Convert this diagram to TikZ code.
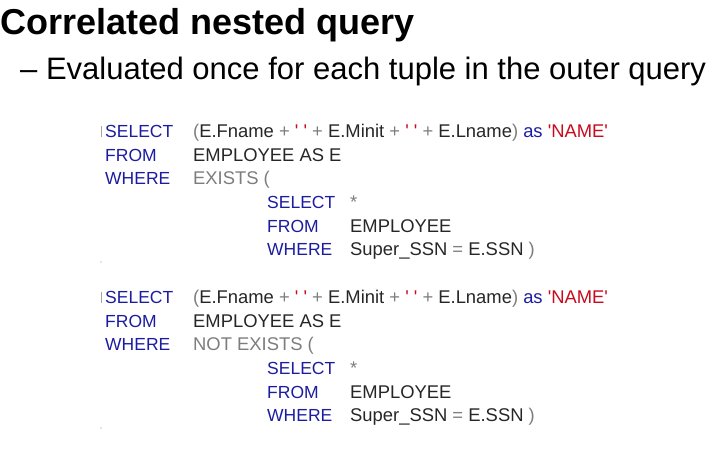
\documentclass[tikz,border=0pt]{standalone}
\usepackage{fontspec}
\setmainfont{Liberation Sans}
\definecolor{sqlblue}{RGB}{28,28,160}
\definecolor{sqlgray}{RGB}{125,125,125}
\definecolor{sqlred}{RGB}{200,10,30}
\newcommand{\sqlop}[1]{{\color{sqlgray}#1}}
\newcommand{\sqlstr}[1]{{\color{sqlred}#1}}
\newcommand{\sqlkw}[1]{{\color{sqlblue}#1}}
\tikzstyle{heading}=[anchor=base west,inner sep=0pt,font=\bfseries\fontsize{36}{40}\selectfont]
\tikzstyle{subheading}=[anchor=base west,inner sep=0pt,font=\fontsize{31}{36}\selectfont]
\tikzstyle{keyword}=[anchor=base west,inner sep=0pt,text=sqlblue,font=\fontsize{17.5}{20}\selectfont]
\tikzstyle{sqltext}=[anchor=base west,inner sep=0pt,text=black!85,font=\fontsize{18.4}{20}\selectfont]

\begin{document}
\begin{tikzpicture}[x=1pt,y=-1pt]
    \useasboundingbox (0,0) rectangle (720,450);
    \node[heading] (title) at (0,34) {Correlated nested query};
    \node[subheading] (subtitle) at (20,79.5) {– Evaluated once for each tuple in the outer query};
    \foreach \b/\cond/\dy in {1/EXISTS/0, 2/NOT EXISTS/166} {
        % outer query
        \node[keyword] (\b select) at (105,137+\dy) {SELECT};
        \node[sqltext] (\b names) at (193,137+\dy) {\sqlop{(}E.Fname \sqlop{+} \sqlstr{\textquotesingle\ \textquotesingle} \sqlop{+} E.Minit \sqlop{+} \sqlstr{\textquotesingle\ \textquotesingle} \sqlop{+} E.Lname\sqlop{)} \sqlkw{as} \sqlstr{\textquotesingle NAME\textquotesingle}};
        \node[keyword] (\b from) at (105,161+\dy) {FROM};
        \node[sqltext] (\b table) at (193,161+\dy) {EMPLOYEE AS E};
        \node[keyword] (\b where) at (105,184+\dy) {WHERE};
        \node[sqltext,text=sqlgray] (\b cond) at (193,184+\dy) {\cond\ (};
        % inner query
        \node[keyword] (\b inner select) at (267,208+\dy) {SELECT};
        \node[sqltext,text=sqlgray] (\b star) at (350,208+\dy) {*};
        \node[keyword] (\b inner from) at (267,232+\dy) {FROM};
        \node[sqltext] (\b inner table) at (350,232+\dy) {EMPLOYEE};
        \node[keyword] (\b inner where) at (267,255+\dy) {WHERE};
        \node[sqltext] (\b test) at (350,255+\dy) {Super\_SSN \sqlop{=} E.SSN \sqlop{)}};
        \draw[sqlgray!70] (101,126+\dy) -- (101,137+\dy);
        \fill[sqlgray!40] (101,262+\dy) circle (0.8);
    };
\end{tikzpicture}
\end{document}
